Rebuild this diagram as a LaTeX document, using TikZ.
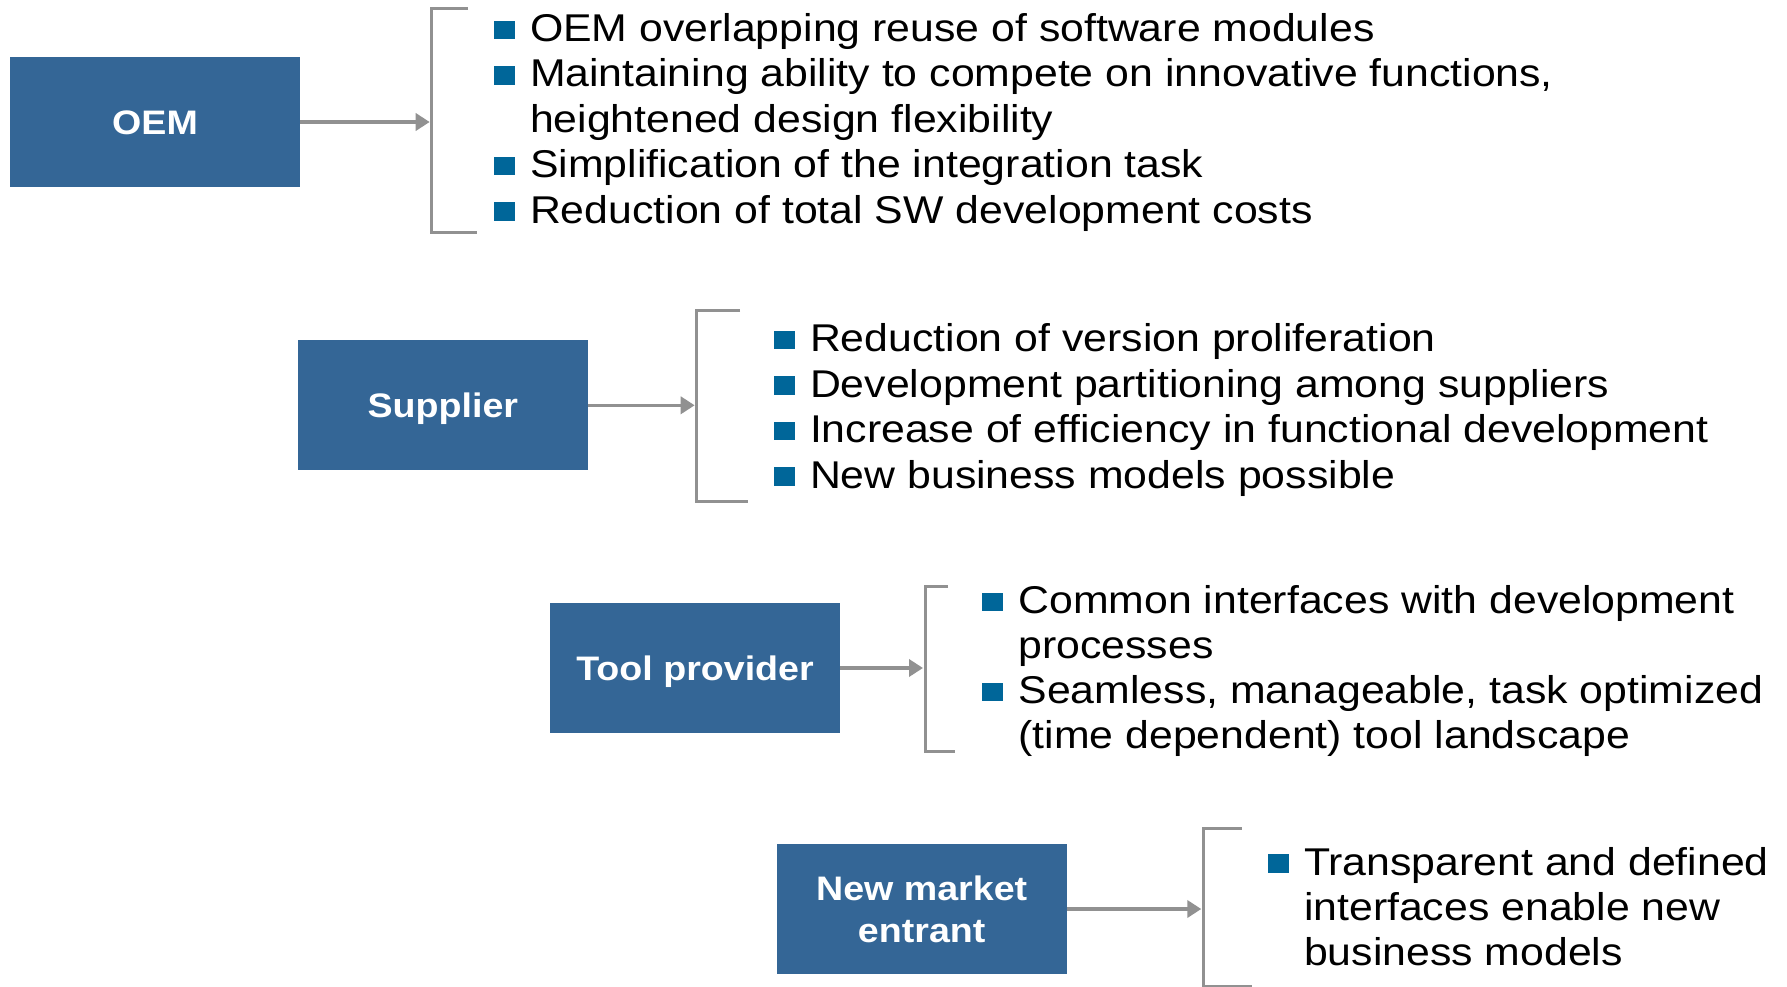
\documentclass[tikz,border=0pt]{standalone}
\usepackage{fontspec}
\setmainfont{Liberation Sans}[FakeStretch=1.106]
\usetikzlibrary{arrows.meta}
\definecolor{boxblue}{RGB}{52,102,150}
\definecolor{bulblue}{RGB}{0,102,153}
\definecolor{lgray}{RGB}{145,145,145}
\begin{document}
\begin{tikzpicture}[x=1pt,y=-1pt,
  actor/.style={fill=boxblue, draw=none, minimum width=290pt, minimum height=130pt,
    inner sep=0pt, text=white, font=\fontsize{34pt}{41.7pt}\selectfont\bfseries, align=center},
  oneline/.style={text height=24.3pt, text depth=0pt},
  item/.style={anchor=base west, inner sep=0pt, outer sep=0pt,
    font=\fontsize{38.7pt}{45pt}\selectfont},
  bul/.style={fill=bulblue, draw=none, minimum width=21pt, minimum height=18.5pt, inner sep=0pt},
  arr/.style={draw=lgray, line width=3.5pt, -{Triangle[length=14pt,width=17pt]}},
  brk/.style={draw=lgray, line width=3pt}]
\useasboundingbox (0,0) rectangle (1787,987);

% ---------- OEM ----------
\node[actor, oneline] (oem) at (155,122) {OEM};
\coordinate (ob) at (431.7,122);
\draw[brk] (468,8.3) -| (431.7,232.3) -- (476.5,232.3);
\draw[arr] (oem.east) -- ([xshift=-2pt]ob);
\node[bul] (obu1) at (504,30.2) {};
\node[bul] (obu2) at (504,75.5) {};
\node[bul] (obu3) at (504,166.2) {};
\node[bul] (obu4) at (504,211.5) {};
\node[item] (ot1) at (530,41.7) {OEM overlapping reuse of software modules};
\node[item] (ot2) at (530,87) {Maintaining ability to compete on innovative functions,};
\node[item] (ot2b) at (530,132.3) {heightened design flexibility};
\node[item] (ot3) at (530,177.7) {Simplification of the integration task};
\node[item] (ot4) at (530,223) {Reduction of total SW development costs};

% ---------- Supplier ----------
\node[actor, oneline] (sup) at (442.8,405.3) {Supplier};
\coordinate (sb) at (696.7,405.3);
\draw[brk] (740,310) -| (696.7,501.7) -- (748,501.7);
\draw[arr] (sup.east) -- ([xshift=-2pt]sb);
\node[bul] (sbu1) at (784,340.2) {};
\node[bul] (sbu2) at (784,385.7) {};
\node[bul] (sbu3) at (784,431.2) {};
\node[bul] (sbu4) at (784,476.7) {};
\node[item] (st1) at (810,351.7) {Reduction of version proliferation};
\node[item] (st2) at (810,397.2) {Development partitioning among suppliers};
\node[item] (st3) at (810,442.7) {Increase of efficiency in functional development};
\node[item] (st4) at (810,488.2) {New business models possible};

% ---------- Tool provider ----------
\node[actor, oneline] (tool) at (695,668) {Tool provider};
\coordinate (tb) at (925,668);
\draw[brk] (948,586) -| (925,751.7) -- (955,751.7);
\draw[arr] (tool.east) -- ([xshift=-2pt]tb);
\node[bul] (tbu1) at (992.5,601.8) {};
\node[bul] (tbu2) at (992.5,691.8) {};
\node[item] (tt1) at (1018.5,613.3) {Common interfaces with development};
\node[item] (tt1b) at (1018.5,658.3) {processes};
\node[item] (tt2) at (1018.5,703.3) {Seamless, manageable, task optimized};
\node[item] (tt2b) at (1018.5,748.3) {(time dependent) tool landscape};

% ---------- New market entrant ----------
\node[actor] (nme) at (921.7,909) {New market\\entrant};
\coordinate (nb) at (1203.3,909);
\draw[brk] (1241.7,828) -| (1203.3,986.5) -- (1251.7,986.5);
\draw[arr] (nme.east) -- ([xshift=-2pt]nb);
\node[bul] (nbu1) at (1278.5,863.5) {};
\node[item] (nt1) at (1304,875) {Transparent and defined};
\node[item] (nt1b) at (1304,920) {interfaces enable new};
\node[item] (nt1c) at (1304,965) {business models};
\end{tikzpicture}
\end{document}
